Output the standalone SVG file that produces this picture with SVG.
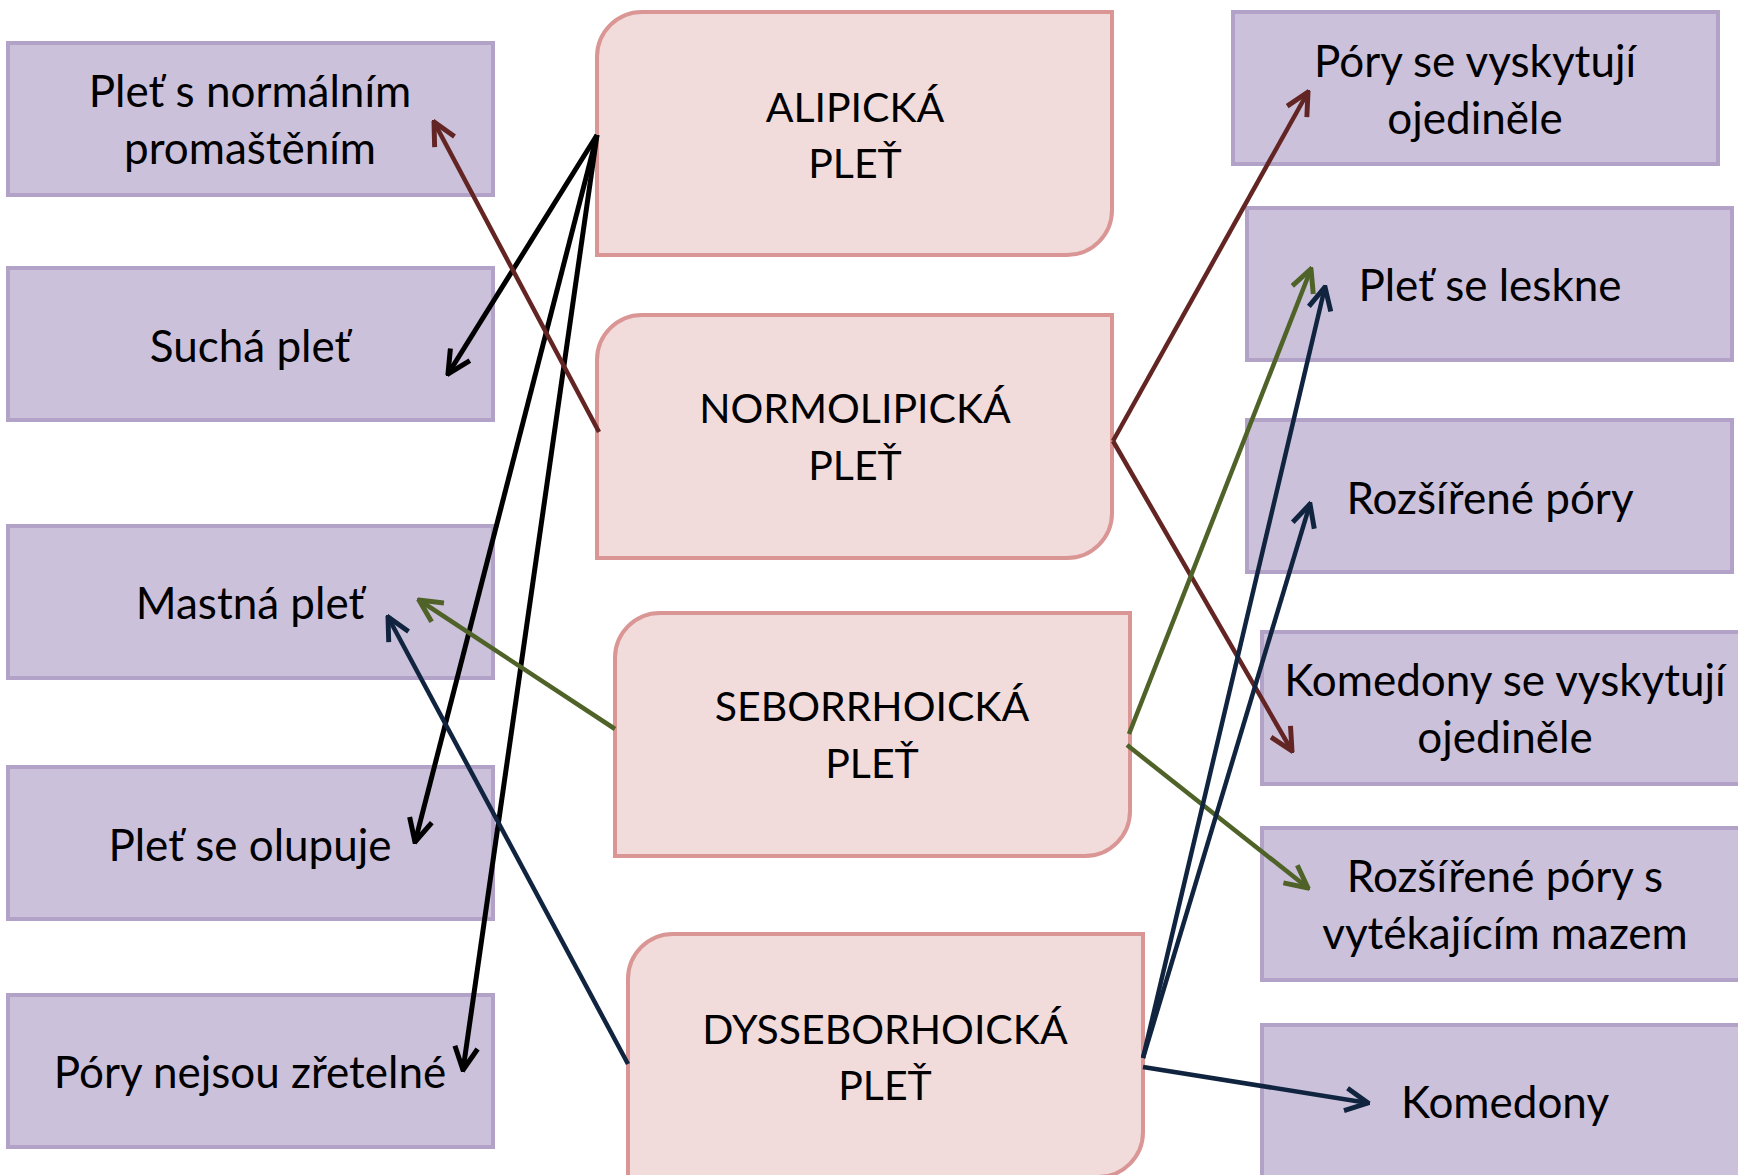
<svg xmlns="http://www.w3.org/2000/svg" width="1738" height="1175" viewBox="0 0 1738 1175">
<style>
.side{fill:#CCC1DA;stroke:#B3A2C7;stroke-width:4}
.mid{fill:#F2DCDB;stroke:#D99694;stroke-width:4}
text{font-family:Lato,"Noto Sans","Liberation Sans",sans-serif;font-size:44px;fill:#000;text-anchor:middle}
.cap{font-size:41px}
.c line{fill:none;stroke-width:4.5}
</style>
<defs>
<marker id="aK" viewBox="0 0 12 12" refX="11" refY="6" markerWidth="5.5" markerHeight="5.5" orient="auto" markerUnits="strokeWidth"><path d="M1,1 L11,6 L1,11" fill="none" stroke="#000" stroke-width="2.2"/></marker>
<marker id="aR" viewBox="0 0 12 12" refX="11" refY="6" markerWidth="6" markerHeight="6" orient="auto" markerUnits="strokeWidth"><path d="M1,1 L11,6 L1,11" fill="none" stroke="#632523" stroke-width="2.2"/></marker>
<marker id="aG" viewBox="0 0 12 12" refX="11" refY="6" markerWidth="6" markerHeight="6" orient="auto" markerUnits="strokeWidth"><path d="M1,1 L11,6 L1,11" fill="none" stroke="#4F6228" stroke-width="2.2"/></marker>
<marker id="aB" viewBox="0 0 12 12" refX="11" refY="6" markerWidth="6" markerHeight="6" orient="auto" markerUnits="strokeWidth"><path d="M1,1 L11,6 L1,11" fill="none" stroke="#10243F" stroke-width="2.2"/></marker>
</defs>

<g id="l1"><rect class="side" x="8" y="43" width="485" height="152"/><text x="250" y="107">Pleť s normálním</text><text x="250" y="164">promaštěním</text></g>
<g id="l2"><rect class="side" x="8" y="268" width="485" height="152"/><text x="250" y="362">Suchá pleť</text></g>
<g id="l3"><rect class="side" x="8" y="526" width="485" height="152"/><text x="250" y="619">Mastná pleť</text></g>
<g id="l4"><rect class="side" x="8" y="767" width="485" height="152"/><text x="250" y="861">Pleť se olupuje</text></g>
<g id="l5"><rect class="side" x="8" y="995" width="485" height="152"/><text x="250" y="1088">Póry nejsou zřetelné</text></g>

<g id="m1"><path class="mid" d="M597,57 A45,45 0 0 1 642,12 L1112,12 L1112,210 A45,45 0 0 1 1067,255 L597,255 Z"/><text class="cap" x="855" y="122">ALIPICKÁ</text><text class="cap" x="855" y="178">PLEŤ</text></g>
<g id="m2"><path class="mid" d="M597,360 A45,45 0 0 1 642,315 L1112,315 L1112,513 A45,45 0 0 1 1067,558 L597,558 Z"/><text class="cap" x="855" y="423">NORMOLIPICKÁ</text><text class="cap" x="855" y="480">PLEŤ</text></g>
<g id="m3"><path class="mid" d="M615,658 A45,45 0 0 1 660,613 L1130,613 L1130,811 A45,45 0 0 1 1085,856 L615,856 Z"/><text class="cap" x="872" y="721">SEBORRHOICKÁ</text><text class="cap" x="872" y="778">PLEŤ</text></g>
<g id="m4"><path class="mid" d="M628,979 A45,45 0 0 1 673,934 L1143,934 L1143,1132 A45,45 0 0 1 1098,1177 L628,1177 Z"/><text class="cap" x="885" y="1044">DYSSEBORHOICKÁ</text><text class="cap" x="885" y="1100">PLEŤ</text></g>

<g id="r1"><rect class="side" x="1233" y="12" width="485" height="152"/><text x="1475" y="77">Póry se vyskytují</text><text x="1475" y="134">ojediněle</text></g>
<g id="r2"><rect class="side" x="1247" y="208" width="485" height="152"/><text x="1490" y="301">Pleť se leskne</text></g>
<g id="r3"><rect class="side" x="1247" y="420" width="485" height="152"/><text x="1490" y="514">Rozšířené póry</text></g>
<g id="r4"><rect class="side" x="1262" y="632" width="485" height="152"/><text x="1505" y="696">Komedony se vyskytují</text><text x="1505" y="753">ojediněle</text></g>
<g id="r5"><rect class="side" x="1262" y="828" width="485" height="152"/><text x="1505" y="892">Rozšířené póry s</text><text x="1505" y="949">vytékajícím mazem</text></g>
<g id="r6"><rect class="side" x="1262" y="1025" width="485" height="152"/><text x="1505" y="1118">Komedony</text></g>

<g id="connectors" class="c">
<line x1="597" y1="135" x2="448" y2="374" stroke="#000" style="stroke-width:5" marker-end="url(#aK)"/>
<line x1="597" y1="135" x2="415" y2="842" stroke="#000" style="stroke-width:5" marker-end="url(#aK)"/>
<line x1="597" y1="135" x2="463" y2="1070" stroke="#000" style="stroke-width:5" marker-end="url(#aK)"/>
<line x1="599" y1="432" x2="434" y2="122" stroke="#632523" marker-end="url(#aR)"/>
<line x1="1113" y1="441" x2="1308" y2="92" stroke="#632523" marker-end="url(#aR)"/>
<line x1="1113" y1="441" x2="1292" y2="751" stroke="#632523" marker-end="url(#aR)"/>
<line x1="615" y1="729" x2="419" y2="600" stroke="#4F6228" marker-end="url(#aG)"/>
<line x1="1129" y1="734" x2="1311" y2="269" stroke="#4F6228" marker-end="url(#aG)"/>
<line x1="1127" y1="745" x2="1308" y2="888" stroke="#4F6228" marker-end="url(#aG)"/>
<line x1="628" y1="1064" x2="388" y2="617" stroke="#10243F" marker-end="url(#aB)"/>
<line x1="1143" y1="1058" x2="1325" y2="287" stroke="#10243F" marker-end="url(#aB)"/>
<line x1="1143" y1="1058" x2="1310" y2="504" stroke="#10243F" marker-end="url(#aB)"/>
<line x1="1143" y1="1067" x2="1368" y2="1103" stroke="#10243F" marker-end="url(#aB)"/>
</g>
</svg>
